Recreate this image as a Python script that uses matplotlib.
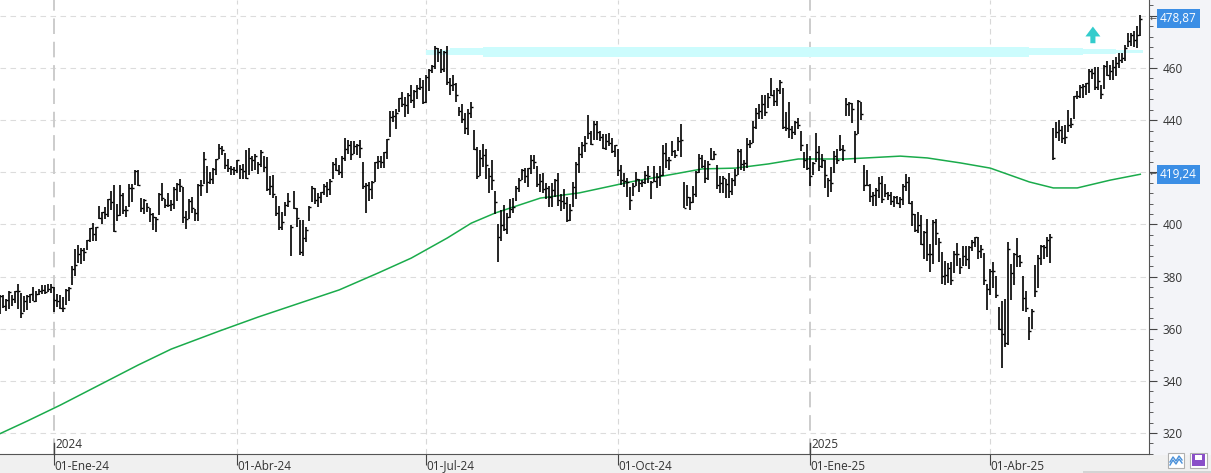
import matplotlib
matplotlib.use('Agg')
import matplotlib.pyplot as plt
from matplotlib.patches import Rectangle, Polygon
from matplotlib.ticker import MultipleLocator
from matplotlib.transforms import blended_transform_factory

plt.rcParams['font.family'] = ['Open Sans', 'DejaVu Sans']

# daily bars, 5-Dec-2023 .. 12-Jun-2025 (index = trading day)
highs = [
    # dic-23
    373.1, 373.1, 371.5, 374.5, 373.0, 374.4, 377.0, 373.8, 372.4, 373.0, 373.3, 376.0, 374.4, 375.2, 376.9, 376.9, 377.2, 377.0,
    # ene-24
    376.0, 373.3, 373.1, 372.1, 375.2, 375.9, 384.2, 390.7, 392.0, 391.0, 390.8, 393.9, 398.7, 400.4, 399.0, 407.0, 404.9, 406.6, 409.8, 413.0, 415.3,
    # feb-24
    408.0, 415.3, 412.0, 407.0, 415.6, 415.6, 420.8, 420.7, 410.3, 409.9, 408.4, 406.4, 404.5, 402.9, 412.0, 415.9, 409.8, 412.0, 409.3, 414.2,
    # mar-24
    415.9, 417.4, 414.3, 405.2, 409.8, 410.4, 405.8, 415.5, 417.0, 427.8, 422.6, 420.1, 421.7, 425.2, 430.8, 429.9, 427.4, 425.0, 422.6, 421.9,
    # abr-24
    424.7, 422.9, 423.3, 428.7, 429.4, 426.4, 427.2, 424.0, 428.7, 426.2, 426.0, 418.4, 418.9, 411.0, 407.0, 404.6, 408.6, 412.2, 399.9, 413.0, 406.3, 401.7,
    # may-24
    401.7, 399.2, 407.2, 414.7, 413.9, 412.1, 412.4, 415.4, 416.2, 417.5, 423.8, 425.4, 422.9, 426.2, 433.0, 432.4, 432.1, 432.0, 430.8, 432.3, 424.0, 416.0,
    # jun-24
    416.4, 416.8, 424.1, 426.3, 426.3, 427.9, 432.8, 443.4, 443.4, 444.1, 448.5, 450.9, 449.0, 450.6, 453.6, 451.4, 453.6, 456.2, 455.4,
    # jul-24
    457.4, 459.6, 461.0, 468.4, 467.7, 467.3, 466.4, 468.4, 456.2, 457.3, 454.3, 444.9, 446.2, 442.8, 444.1, 446.9, 436.2, 429.6, 428.6, 431.0, 429.0, 421.8,
    # ago-24
    424.8, 412.9, 400.0, 405.5, 407.4, 404.2, 409.9, 410.3, 414.9, 417.7, 421.1, 421.8, 421.8, 426.5, 426.8, 422.5, 419.3, 419.8, 416.0, 414.8, 415.7, 417.5,
    # sep-24
    419.9, 411.8, 413.5, 410.4, 407.9, 416.3, 424.0, 429.8, 431.8, 433.9, 441.9, 436.0, 439.8, 439.6, 436.0, 434.8, 434.6, 435.0, 433.0, 430.4,
    # oct-24
    428.9, 422.8, 419.6, 418.0, 414.2, 415.7, 420.0, 417.4, 417.2, 420.4, 422.5, 416.6, 422.5, 419.7, 422.5, 430.6, 431.1, 425.9, 431.9, 428.5, 433.7, 438.5, 416.2,
    # nov-24
    415.0, 410.4, 414.9, 420.5, 426.9, 426.5, 424.8, 424.4, 429.3, 428.2, 422.8, 418.4, 418.4, 417.3, 419.8, 417.8, 421.1, 429.0, 429.0, 424.9,
    # dic-24
    433.0, 432.5, 439.7, 444.7, 446.1, 449.6, 449.6, 450.4, 456.2, 451.4, 452.2, 455.3, 452.2, 443.0, 447.1, 437.7, 439.6, 440.9, 436.0, 427.6, 430.9,
    # ene-25
    426.1, 423.8, 434.9, 430.0, 427.0, 424.7, 418.0, 422.2, 428.2, 428.8, 434.2, 430.4, 448.4, 446.9, 446.7, 436.0, 447.7, 446.9, 422.9, 420.7,
    # feb-25
    415.4, 412.5, 413.8, 418.2, 418.6, 415.5, 412.5, 412.6, 411.0, 411.0, 410.6, 415.5, 419.3, 418.1, 409.0, 403.9, 404.9, 403.6, 397.4,
    # mar-25
    402.2, 392.5, 401.8, 402.2, 394.8, 389.4, 386.0, 385.2, 385.6, 390.0, 392.8, 387.0, 391.8, 391.8, 391.7, 394.0, 395.3, 395.3, 392.2, 389.1, 377.1,
    # abr-25
    382.9, 385.7, 380.3, 368.2, 370.8, 371.3, 393.2, 384.9, 389.0, 394.7, 388.4, 380.3, 374.3, 364.5, 367.7, 384.4, 388.1, 392.0, 392.3, 395.0, 396.4,
    # may-25
    437.0, 439.4, 439.9, 437.7, 438.1, 443.7, 440.7, 449.4, 451.2, 453.4, 453.8, 454.4, 459.5, 459.6, 460.2, 460.2, 453.3, 461.0, 462.5, 461.0, 463.0,
    # jun-25
    464.1, 465.7, 465.7, 469.0, 473.3, 473.5, 474.0, 476.0, 480.4,
]
lows = [
    365.6, 368.1, 366.9, 367.4, 368.7, 370.0, 367.7, 364.0, 366.5, 367.2, 369.9, 370.6, 370.2, 372.9, 373.5, 373.5, 374.1, 373.6,
    366.5, 368.5, 367.4, 366.5, 369.0, 370.6, 376.6, 380.4, 385.2, 384.8, 385.9, 390.1, 393.2, 393.6, 393.6, 401.9, 400.1, 402.2, 402.9, 405.6, 397.2,
    401.2, 403.4, 403.9, 402.9, 406.8, 408.7, 415.2, 414.8, 404.9, 404.0, 404.9, 400.9, 398.0, 397.2, 403.6, 408.9, 406.2, 406.6, 405.3, 405.9,
    409.0, 412.3, 400.6, 398.4, 402.2, 404.4, 401.2, 401.5, 411.0, 415.5, 412.2, 415.5, 415.6, 419.1, 425.1, 426.8, 421.4, 420.1, 419.1, 419.0,
    419.8, 417.5, 417.3, 417.3, 419.0, 420.5, 421.0, 419.2, 422.0, 420.1, 413.0, 411.2, 410.3, 403.4, 397.8, 397.9, 403.3, 406.8, 388.0, 405.8, 399.1, 388.4,
    388.0, 393.2, 401.5, 408.6, 408.0, 406.8, 408.3, 411.1, 410.6, 411.1, 417.6, 420.4, 418.9, 417.7, 424.5, 427.1, 424.8, 427.2, 426.6, 425.6, 413.6, 404.5,
    408.9, 409.8, 416.3, 421.1, 421.8, 421.6, 425.1, 433.7, 439.1, 436.7, 443.3, 444.9, 441.3, 442.3, 446.6, 444.5, 448.2, 451.4, 446.2,
    446.4, 451.2, 457.9, 459.6, 462.2, 458.0, 458.3, 453.6, 449.6, 451.3, 446.8, 441.5, 438.9, 434.7, 434.4, 440.8, 428.4, 417.5, 418.7, 421.9, 417.4, 412.2,
    413.3, 404.1, 385.6, 393.6, 397.4, 396.2, 402.3, 404.3, 409.0, 412.5, 417.0, 415.7, 414.4, 419.5, 421.2, 414.5, 412.4, 412.0, 409.6, 406.8, 406.5, 410.5,
    407.0, 405.1, 406.0, 400.8, 401.3, 406.5, 409.6, 419.8, 425.4, 427.7, 432.9, 430.4, 432.3, 432.4, 432.0, 428.9, 428.6, 429.9, 427.5, 426.0,
    418.5, 415.2, 414.3, 410.5, 405.6, 410.9, 414.9, 412.4, 414.3, 415.5, 415.9, 409.6, 416.4, 413.9, 414.6, 418.5, 421.8, 420.9, 426.4, 425.4, 428.2, 425.8, 406.3,
    407.2, 405.6, 408.1, 410.5, 419.9, 421.5, 416.0, 417.2, 424.9, 424.6, 413.6, 412.1, 412.1, 410.3, 410.3, 411.1, 414.9, 418.9, 420.9, 420.6,
    421.6, 429.3, 431.1, 436.7, 440.6, 440.6, 441.6, 444.5, 449.1, 445.6, 445.6, 449.9, 436.7, 436.0, 433.3, 432.8, 434.2, 436.6, 428.0, 421.8, 420.7,
    414.9, 419.1, 423.9, 420.4, 421.5, 414.0, 410.7, 412.5, 419.8, 423.1, 428.0, 424.3, 441.7, 441.6, 439.0, 423.6, 434.6, 440.0, 413.0, 414.9,
    408.7, 406.9, 407.2, 410.0, 408.1, 410.6, 409.3, 407.6, 406.5, 407.9, 406.4, 407.5, 412.9, 407.9, 399.5, 397.2, 396.8, 392.0, 386.6,
    386.1, 381.7, 385.0, 392.0, 385.5, 377.2, 376.9, 377.6, 376.7, 381.2, 384.2, 381.0, 383.9, 383.9, 383.0, 390.0, 391.5, 386.6, 387.3, 376.9, 367.2,
    373.1, 375.5, 371.9, 359.4, 344.8, 352.9, 353.7, 371.1, 376.9, 383.5, 383.8, 366.8, 366.3, 355.7, 359.9, 372.3, 375.5, 384.3, 386.9, 387.5, 385.3,
    424.9, 433.0, 432.1, 431.2, 430.9, 435.3, 436.9, 440.6, 448.0, 448.4, 448.5, 449.8, 450.4, 455.6, 451.5, 451.7, 448.3, 452.1, 456.9, 455.4, 455.5,
    456.9, 460.0, 462.0, 462.6, 468.1, 468.4, 468.2, 467.5, 472.2,
]
closes = [
    372.5, 368.8, 370.9, 374.2, 371.3, 374.4, 374.4, 365.9, 370.7, 372.7, 373.3, 370.6, 373.5, 374.6, 374.7, 374.1, 375.3, 376.0,
    370.9, 370.6, 367.9, 367.8, 374.7, 375.8, 382.8, 384.6, 388.5, 390.3, 389.5, 393.9, 398.7, 396.5, 398.9, 402.6, 404.9, 403.9, 409.7, 408.6, 397.6,
    403.8, 411.2, 405.6, 405.5, 414.1, 414.1, 420.6, 415.3, 406.3, 409.5, 406.6, 404.1, 402.8, 402.2, 411.7, 410.3, 407.5, 407.5, 407.7, 413.6,
    415.5, 414.9, 402.7, 402.1, 409.1, 406.2, 404.5, 415.3, 415.1, 425.2, 416.4, 417.3, 421.4, 425.2, 429.4, 428.7, 422.9, 421.7, 421.4, 420.7,
    424.6, 421.4, 420.5, 417.9, 425.5, 424.6, 426.3, 423.3, 427.9, 421.9, 413.6, 414.6, 411.8, 404.3, 399.1, 401.0, 407.6, 409.1, 399.0, 406.3, 402.3, 389.3,
    394.9, 397.8, 406.7, 414.0, 409.3, 410.5, 412.3, 414.7, 413.7, 416.6, 423.1, 421.0, 420.2, 425.3, 429.0, 430.5, 427.0, 430.2, 430.3, 429.2, 414.7, 415.1,
    413.5, 416.1, 424.0, 424.5, 423.9, 427.9, 432.7, 441.1, 441.6, 442.6, 448.4, 446.3, 445.7, 449.8, 447.7, 451.0, 452.2, 452.9, 447.0,
    456.7, 459.3, 460.8, 467.6, 466.2, 459.5, 466.3, 454.7, 453.6, 454.0, 449.5, 443.5, 440.4, 437.1, 442.9, 444.9, 428.9, 418.4, 425.3, 426.7, 422.9, 418.4,
    417.1, 408.5, 395.2, 399.6, 398.4, 402.7, 406.0, 406.8, 414.0, 416.9, 421.0, 418.5, 421.5, 424.8, 424.1, 415.6, 416.8, 413.5, 413.8, 410.6, 413.1, 417.1,
    409.4, 408.9, 408.4, 401.7, 405.7, 414.2, 423.0, 427.0, 430.6, 431.3, 435.2, 430.8, 438.7, 435.3, 433.5, 429.2, 432.1, 431.3, 428.0, 430.3,
    420.7, 417.1, 416.5, 416.1, 409.5, 414.7, 417.5, 415.8, 416.3, 419.1, 418.7, 416.1, 416.7, 418.2, 418.8, 427.5, 424.6, 424.7, 428.2, 426.6, 432.0, 432.5, 406.4,
    410.4, 408.5, 411.5, 420.2, 425.4, 422.5, 418.0, 423.0, 425.2, 426.9, 415.0, 415.8, 417.8, 415.5, 412.9, 417.0, 418.8, 428.0, 423.0, 423.5,
    431.0, 431.2, 437.4, 442.6, 443.6, 446.0, 443.3, 449.0, 449.6, 447.3, 451.6, 454.5, 437.4, 437.0, 436.6, 435.3, 439.3, 438.1, 430.5, 424.8, 421.5,
    418.6, 423.4, 427.9, 422.4, 424.6, 419.0, 417.2, 415.7, 426.3, 424.6, 429.0, 428.5, 446.2, 446.7, 444.1, 434.6, 447.2, 442.3, 415.0, 415.1,
    410.9, 411.4, 413.3, 415.8, 409.8, 412.2, 411.4, 409.0, 410.5, 408.4, 409.6, 414.8, 416.1, 408.2, 404.0, 397.9, 399.7, 392.5, 397.0,
    388.5, 388.6, 401.0, 396.9, 393.3, 380.2, 380.5, 383.3, 378.8, 388.6, 388.7, 383.5, 387.8, 386.8, 391.3, 393.1, 395.2, 390.0, 390.6, 378.8, 375.4,
    382.2, 382.1, 373.1, 359.8, 357.9, 354.6, 390.5, 381.4, 388.5, 387.8, 385.7, 371.6, 367.8, 359.1, 366.8, 374.4, 387.3, 391.9, 391.2, 394.0, 395.3,
    425.4, 435.3, 436.2, 433.3, 433.4, 438.2, 438.7, 449.4, 449.1, 452.9, 453.1, 454.3, 458.9, 458.2, 452.6, 454.9, 450.2, 460.7, 457.4, 458.7, 460.4,
    462.0, 463.0, 463.9, 467.7, 470.4, 472.8, 470.9, 472.6, 478.9,
]

# media movil (linea verde)
sma_idx = [0, 9, 20, 33, 46, 57, 73, 86, 100, 113, 126, 137, 149, 157, 165, 180, 193, 210, 223,
           234, 245, 256, 266, 282, 300, 309, 320, 330, 343, 351, 359, 370, 380]
sma_val = [319.8, 324.6, 330.7, 338.4, 346.1, 352.2, 359.1, 364.5, 369.9, 374.9, 381.4, 387.1, 394.8,
           400.5, 404.4, 410.1, 412.1, 416.3, 419.0, 421.3, 421.6, 423.2, 425.1, 425.1, 426.2, 425.5,
           423.6, 421.6, 416.3, 414.0, 414.0, 417.0, 419.24]

quarter_idx = [18, 79, 142, 206, 270, 330]
quarter_lbl = ['01-Ene-24', '01-Abr-24', '01-Jul-24', '01-Oct-24', '01-Ene-25', '01-Abr-25']
year_idx = [18, 270]
year_lbl = ['2024', '2025']

# resistencia (banda cian)
band_x = [142, 150, 161, 343, 361, 372, 381]
band_top = [466.9, 467.5, 468.2, 467.6, 467.2, 466.9]
band_bot = [465.1, 464.8, 464.4, 465.0, 465.4, 465.9]

last_price = 478.87
last_sma = 419.24

assert len(highs) == len(lows) == len(closes)
n = len(closes)
idx = list(range(n))

W, H = 1211, 473
fig = plt.figure(figsize=(W / 100, H / 100), dpi=100)
fig.patches.append(Rectangle((0, 0), 1, 19 / H, transform=fig.transFigure, color='#f0f0f0', zorder=-5))
fig.patches.append(Rectangle((1149 / W, 19 / H), 62 / W, 454 / H, transform=fig.transFigure,
                             color='#f3f4f8', zorder=-5))

ax = fig.add_axes([0, 19 / H, 1149 / W, 454 / H])
ax.set_xlim(-0.1, 382.9)
ax.set_ylim(311.95, 486.08)

# grid
for p in range(320, 481, 20):
    ax.axhline(p, color='#dcdcdc', lw=0.8, ls=(0, (5, 4)), zorder=0)
for q in quarter_idx:
    if q in year_idx:
        ax.axvline(q, color='#cccccc', lw=1.4, ls=(0, (8, 4)), zorder=0)
    else:
        ax.axvline(q, color='#d8d8d8', lw=0.8, ls=(0, (5, 4)), zorder=0)

# banda cian
for i in range(len(band_top)):
    ax.fill_between([band_x[i], band_x[i + 1]], band_bot[i], band_top[i], color='#ccfcfd', lw=0, zorder=1)

# barras
ax.vlines(idx, lows, highs, color='black', lw=1.2, zorder=3)
ax.hlines(closes, idx, [i + 0.55 for i in idx], color='black', lw=1.0, zorder=3)

# media
ax.plot(sma_idx, sma_val, color='#1aab4b', lw=1.1, zorder=2)

# flecha
ax_c, ay0 = 364.2, 469.5
arrow = Polygon([(ax_c - 0.85, ay0), (ax_c + 0.85, ay0), (ax_c + 0.85, ay0 + 2.6), (ax_c + 2.5, ay0 + 2.6),
                 (ax_c, ay0 + 6.4), (ax_c - 2.5, ay0 + 2.6), (ax_c - 0.85, ay0 + 2.6)],
                closed=True, color='#33cccc', lw=0, zorder=4)
ax.add_patch(arrow)

# ejes
for s in ['left', 'top']:
    ax.spines[s].set_visible(False)
ax.spines['bottom'].set_color('#555555')
ax.spines['right'].set_color('#555555')
ax.yaxis.tick_right()
yt = list(range(320, 481, 20))
ax.set_yticks(yt)
# 420 y 480 quedan tapados por las etiquetas azules
ax.set_yticklabels(['' if t in (420, 480) else str(t) for t in yt])
ax.yaxis.set_minor_locator(MultipleLocator(4))
ax.tick_params(axis='y', which='major', length=6, color='#444444', labelsize=8.5, labelcolor='#333333', pad=4)
ax.tick_params(axis='y', which='minor', length=3, color='#444444')
ax.set_xticks(quarter_idx)
ax.set_xticklabels(quarter_lbl, ha='left')
ax.tick_params(axis='x', length=8, color='#444444', labelsize=8.5, labelcolor='#333333', pad=-4)

bt = blended_transform_factory(ax.transData, ax.transAxes)
for yi, yl in zip(year_idx, year_lbl):
    ax.plot([yi, yi], [0, 0.024], color='#444444', lw=1, transform=bt, zorder=4, clip_on=False)
    ax.text(yi + 0.4, 0.006, yl, transform=bt, fontsize=8.5, color='#333333', ha='left', va='bottom')

rt = blended_transform_factory(ax.transAxes, ax.transData)
for v in [last_price, last_sma]:
    ax.text(1 + 11 / 1149, v, f'{v:.2f}'.replace('.', ','), transform=rt, fontsize=8.5, color='white',
            ha='left', va='center', clip_on=False, zorder=6,
            bbox=dict(boxstyle='square,pad=0.25', fc='#3b8ee5', ec='none'))
    ax.text(1 + 1 / 1149, v, '\u2190', transform=rt, fontsize=6, color='#444444',
            ha='left', va='center', clip_on=False, zorder=6)


# botones abajo a la derecha
def px(x, y):
    return x / W, 1 - y / H


fig.patches.append(Rectangle(px(1168, 468), 16 / W, 15 / H, transform=fig.transFigure,
                             fc='white', ec='#b0b0b0', lw=0.8, zorder=2))
fig.patches.append(Rectangle(px(1190, 468), 17 / W, 15 / H, transform=fig.transFigure,
                             fc='white', ec='#b0b0b0', lw=0.8, zorder=2))
zx = [1170, 1173, 1176, 1179, 1182]
fig.lines.append(plt.Line2D([px(x, 0)[0] for x in zx], [px(0, y)[1] for y in [462, 457, 461, 456, 460]],
                            transform=fig.transFigure, color='#4a90d9', lw=1, zorder=3))
fig.lines.append(plt.Line2D([px(x, 0)[0] for x in zx], [px(0, y)[1] for y in [465, 460, 464, 459, 463]],
                            transform=fig.transFigure, color='#4a90d9', lw=1, zorder=3))
fig.patches.append(Rectangle(px(1192, 466), 13 / W, 12 / H, transform=fig.transFigure,
                             fc='#8a4fc8', ec='none', zorder=3))
fig.patches.append(Rectangle(px(1195, 460), 7 / W, 5 / H, transform=fig.transFigure,
                             fc='white', ec='none', zorder=4))
fig.patches.append(Rectangle(px(1083, 473), 128 / W, 2 / H, transform=fig.transFigure,
                             fc='#d4d4d4', ec='none', zorder=1))

fig.savefig('out.png', dpi=100)
